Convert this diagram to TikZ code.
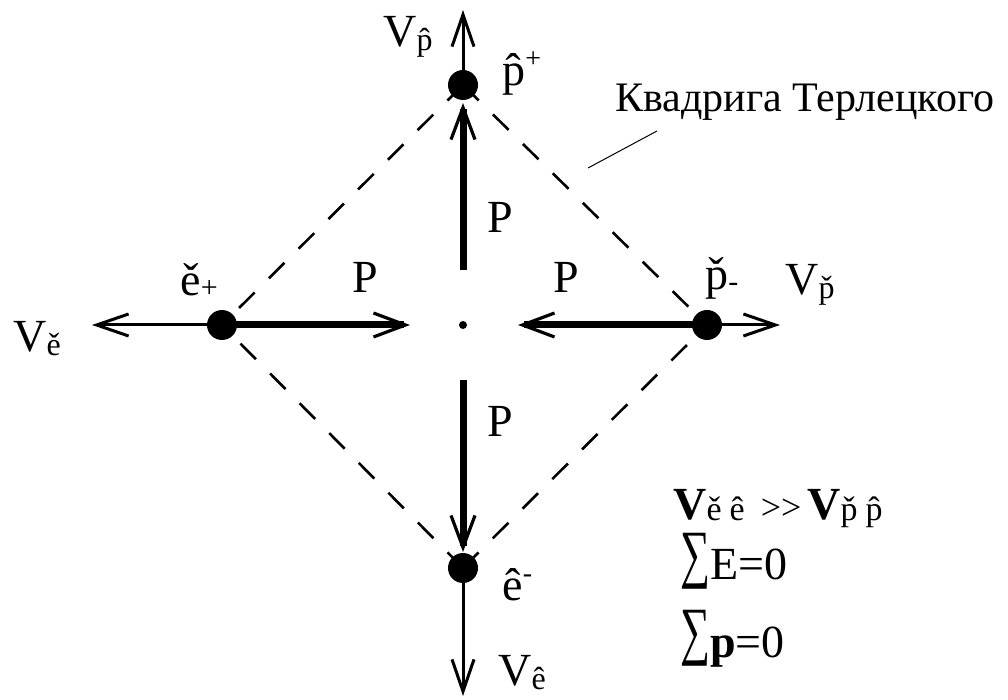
\documentclass[tikz,border=0pt]{standalone}
\usepackage{fontspec}
\setmainfont{Liberation Serif}
\usetikzlibrary{arrows.meta}
\newcommand\lsub[1]{\raisebox{-2pt}{\fontsize{16}{16}\selectfont #1}}
\newcommand\lsup[1]{\raisebox{9pt}{\fontsize{14}{14}\selectfont #1}}
\newcommand\ssub[1]{\raisebox{-1pt}{\fontsize{15}{15}\selectfont #1}}
\newcommand\rsub[1]{\raisebox{-0.5pt}{\fontsize{17}{17}\selectfont #1}}
\newcommand\bigsum{\raisebox{-4.5pt}{\resizebox*{15pt}{28pt}{\raisebox{\depth}{∑}}}}
\begin{document}
\begin{tikzpicture}[x=0.5pt,y=-0.5pt,
  vel/.style={line width=1.5pt,-{Straight Barb[length=16pt,width=11pt,line width=1.5pt]}},
  mom/.style={line width=3.5pt,-{Straight Barb[length=16pt,width=12pt,line width=1.6pt]}},
  quad/.style={line width=1.3pt,dash pattern=on 11pt off 10pt},
  dot/.style={circle,fill=black,inner sep=0pt,minimum size=15pt},
  lbl/.style={inner sep=0pt,anchor=base west,font=\fontsize{23}{23}\selectfont},
  note/.style={inner sep=0pt,anchor=base west,font=\fontsize{21}{21}\selectfont}]
\useasboundingbox (0,0) rectangle (1008,700);
% positions of particles
\coordinate (ptop) at (463,85);
\coordinate (pbot) at (463,568);
\coordinate (plft) at (222,325);
\coordinate (prgt) at (707,325);
% dashed quadriga
\draw[quad] (ptop) -- (plft);
\draw[quad] (ptop) -- (prgt);
\draw[quad] (pbot) -- (plft);
\draw[quad] (pbot) -- (prgt);
% dots
\node[dot] (top) at (ptop) {};
\node[dot] (bot) at (pbot) {};
\node[dot] (lft) at (plft) {};
\node[dot] (rgt) at (prgt) {};
\node[circle,fill=black,inner sep=0pt,minimum size=4pt] (ctr) at (463,325) {};
% velocity arrow ends
\coordinate (topend) at (463,10);
\coordinate (botend) at (463,696);
\coordinate (lftend) at (92,325);
\coordinate (rgtend) at (780,325);
\draw[vel] (top.center) -- (topend);
\draw[vel] (bot.center) -- (botend);
\draw[vel] (lft.center) -- (lftend);
\draw[vel] (rgt.center) -- (rgtend);
% momentum arrows
\coordinate (upstart) at (463,270);
\coordinate (uptip) at (463,103);
\coordinate (dnstart) at (463,380);
\coordinate (dntip) at (463,552);
\coordinate (rtip) at (410,325);
\coordinate (ltip) at (518,325);
\draw[mom] (upstart) -- (uptip);
\draw[mom] (dnstart) -- (dntip);
\draw[mom] (lft.center) -- (rtip);
\draw[mom] (rgt.center) -- (ltip);
% labels
\node[lbl] (Vp) at (383,47) {V\lsub{\^{p}}};
\node[lbl] (pp) at (502,86) {\^{p}\lsup{+}};
\node[lbl] (em) at (180,296) {ě\ssub{+}};
\node[lbl] (Ve) at (13,352) {V\lsub{ě}};
\node[lbl] (pm) at (705,290) {\v{p}\ssub{-}};
\node[lbl] (Vpc) at (785,295) {V\lsub{\v{p}}};
\node[lbl] (eh) at (502,600) {ê\lsup{-}};
\node[lbl] (Veh) at (498,685) {V\lsub{ê}};
\node[lbl] (P1) at (487,233) {P};
\node[lbl] (P2) at (352,293) {P};
\node[lbl] (P3) at (553,293) {P};
\node[lbl] (P4) at (487,437) {P};
\node[note] (quadr) at (615,112) {Квадрига Терлецкого};
\coordinate (la) at (588,168);
\coordinate (lb) at (657,131);
\draw[line width=0.5pt] (la) -- (lb);
% relations
\node[lbl] (rel1) at (673,520) {\textbf{V}\rsub{ě\hspace{4pt}ê}\hspace{8pt}{\fontsize{18}{18}\selectfont >{}>}\hspace{3pt}\textbf{V}\rsub{\v{p}\hspace{4pt}\^{p}}};
\node[lbl] (rel2) at (680,580) {\bigsum E=0};
\node[lbl] (rel3) at (680,657) {\bigsum\textbf{p}=0};
\end{tikzpicture}
\end{document}
